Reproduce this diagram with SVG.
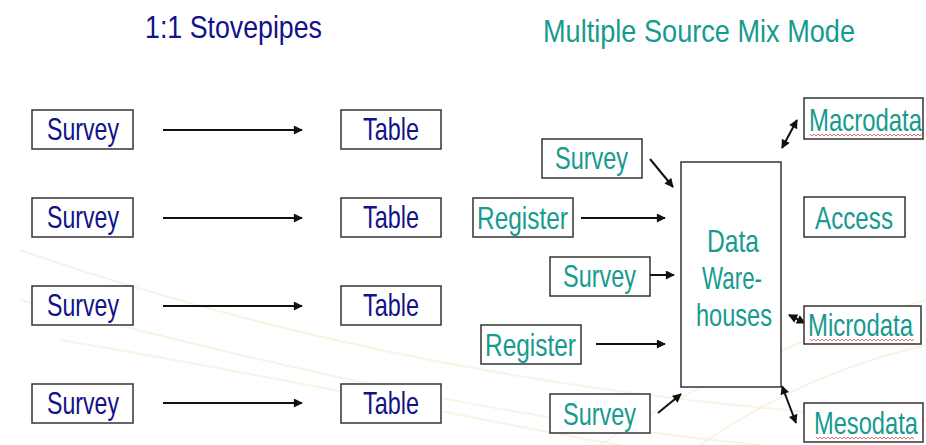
<svg xmlns="http://www.w3.org/2000/svg" width="926" height="445" viewBox="0 0 926 445">
<defs>
<style>
.box{fill:#fff;stroke:#333;stroke-width:1.5}
.t{font-family:"Liberation Sans",Arial,sans-serif;font-size:32px;text-anchor:start}
.navy{fill:#12128a}
.teal{fill:#179a8f}
.conn{stroke:#111;stroke-width:2;fill:none}
.bg{stroke:#f6ead0;stroke-width:2;fill:none;opacity:0.55}
.sq{stroke:#d24a4a;stroke-width:0.8;fill:none}
</style>
<marker id="ah" viewBox="0 0 10 10" refX="9" refY="5" markerWidth="10" markerHeight="9" markerUnits="userSpaceOnUse" orient="auto-start-reverse">
<path d="M0,0 L10,5 L0,10 z" fill="#111"/>
</marker>
</defs>
<rect width="926" height="445" fill="#fff"/>
<g id="background">
<path class="bg" d="M20,250 C250,330 550,400 926,420"/>
<path class="bg" d="M20,300 C250,360 500,420 760,445"/>
<path class="bg" d="M60,340 C300,380 500,425 620,445"/>
<path class="bg" d="M600,445 C700,380 820,330 926,300"/>
<path class="bg" d="M700,445 C780,390 860,360 926,345"/>
</g>
<g id="titles">
<text class="t navy" x="145" y="38" font-size="33" textLength="177" lengthAdjust="spacingAndGlyphs">1:1 Stovepipes</text>
<text class="t teal" x="543" y="42" font-size="33" textLength="312" lengthAdjust="spacingAndGlyphs">Multiple Source Mix Mode</text>
</g>
<g id="connectors">
<line class="conn" x1="163" y1="130" x2="302" y2="130" marker-end="url(#ah)"/>
<line class="conn" x1="163" y1="218" x2="302" y2="218" marker-end="url(#ah)"/>
<line class="conn" x1="163" y1="306" x2="302" y2="306" marker-end="url(#ah)"/>
<line class="conn" x1="163" y1="403" x2="302" y2="403" marker-end="url(#ah)"/>
<line class="conn" x1="650" y1="159" x2="673" y2="187" marker-end="url(#ah)"/>
<line class="conn" x1="581" y1="218" x2="665" y2="218" marker-end="url(#ah)"/>
<line class="conn" x1="650" y1="275" x2="674" y2="275" marker-end="url(#ah)"/>
<line class="conn" x1="596" y1="344" x2="665" y2="344" marker-end="url(#ah)"/>
<line class="conn" x1="658" y1="413" x2="681" y2="394" marker-end="url(#ah)"/>
<line class="conn" x1="782" y1="148" x2="797" y2="120" marker-start="url(#ah)" marker-end="url(#ah)"/>
<line class="conn" x1="789" y1="315" x2="805" y2="323" marker-start="url(#ah)" marker-end="url(#ah)"/>
<line class="conn" x1="782" y1="386" x2="796" y2="423" marker-start="url(#ah)" marker-end="url(#ah)"/>
</g>
<g id="survey-l1"><rect class="box" x="32" y="110" width="101" height="39"/><text class="t navy" x="47" y="140" textLength="72" lengthAdjust="spacingAndGlyphs">Survey</text></g>
<g id="survey-l2"><rect class="box" x="32" y="198" width="101" height="39"/><text class="t navy" x="47" y="228" textLength="72" lengthAdjust="spacingAndGlyphs">Survey</text></g>
<g id="survey-l3"><rect class="box" x="32" y="286" width="101" height="39"/><text class="t navy" x="47" y="316" textLength="72" lengthAdjust="spacingAndGlyphs">Survey</text></g>
<g id="survey-l4"><rect class="box" x="32" y="384" width="101" height="39"/><text class="t navy" x="47" y="414" textLength="72" lengthAdjust="spacingAndGlyphs">Survey</text></g>
<g id="table-1"><rect class="box" x="341" y="110" width="100" height="39"/><text class="t navy" x="363" y="140" textLength="56" lengthAdjust="spacingAndGlyphs">Table</text></g>
<g id="table-2"><rect class="box" x="341" y="198" width="100" height="39"/><text class="t navy" x="363" y="228" textLength="56" lengthAdjust="spacingAndGlyphs">Table</text></g>
<g id="table-3"><rect class="box" x="341" y="286" width="100" height="39"/><text class="t navy" x="363" y="316" textLength="56" lengthAdjust="spacingAndGlyphs">Table</text></g>
<g id="table-4"><rect class="box" x="341" y="384" width="100" height="39"/><text class="t navy" x="363" y="414" textLength="56" lengthAdjust="spacingAndGlyphs">Table</text></g>
<g id="survey-r1"><rect class="box" x="542" y="139" width="100" height="39"/><text class="t teal" x="555" y="169" textLength="73" lengthAdjust="spacingAndGlyphs">Survey</text></g>
<g id="register-r1"><rect class="box" x="473" y="198" width="100" height="39"/><text class="t teal" x="477" y="229" textLength="91" lengthAdjust="spacingAndGlyphs">Register</text></g>
<g id="survey-r2"><rect class="box" x="550" y="257" width="100" height="39"/><text class="t teal" x="563" y="287" textLength="73" lengthAdjust="spacingAndGlyphs">Survey</text></g>
<g id="register-r2"><rect class="box" x="481" y="325" width="100" height="39"/><text class="t teal" x="485" y="356" textLength="91" lengthAdjust="spacingAndGlyphs">Register</text></g>
<g id="survey-r3"><rect class="box" x="550" y="394" width="100" height="39"/><text class="t teal" x="563" y="425" textLength="73" lengthAdjust="spacingAndGlyphs">Survey</text></g>
<g id="data-warehouses"><rect class="box" x="681" y="162" width="100" height="225"/>
<text class="t teal" x="707" y="252" textLength="52" lengthAdjust="spacingAndGlyphs">Data</text>
<text class="t teal" x="702" y="289" textLength="60" lengthAdjust="spacingAndGlyphs">Ware-</text>
<text class="t teal" x="696" y="326" textLength="76" lengthAdjust="spacingAndGlyphs">houses</text></g>
<g id="macrodata"><rect class="box" x="804" y="98" width="119" height="41"/><text class="t teal" transform="translate(809,131) scale(0.748,1)">Macrodata</text>
<path class="sq" d="M810,134 l2,2 l2,-2 l2,2 l2,-2 l2,2 l2,-2 l2,2 l2,-2 l2,2 l2,-2 l2,2 l2,-2 l2,2 l2,-2 l2,2 l2,-2 l2,2 l2,-2 l2,2 l2,-2 l2,2 l2,-2 l2,2 l2,-2 l2,2 l2,-2 l2,2 l2,-2 l2,2 l2,-2 l2,2 l2,-2 l2,2 l2,-2 l2,2 l2,-2 l2,2 l2,-2 l2,2 l2,-2 l2,2 l2,-2 l2,2 l2,-2 l2,2 l2,-2 l2,2 l2,-2 l2,2 l2,-2 l2,2 l2,-2 l2,2 l2,-2 l2,2 l2,-2 l2,2"/></g>
<g id="access"><rect class="box" x="804" y="197" width="101" height="40"/><text class="t teal" x="815" y="229" textLength="78" lengthAdjust="spacingAndGlyphs">Access</text></g>
<g id="microdata"><rect class="box" x="804" y="306" width="117" height="38"/><text class="t teal" transform="translate(808,336) scale(0.747,1)">Microdata</text>
<path class="sq" d="M810,339 l2,2 l2,-2 l2,2 l2,-2 l2,2 l2,-2 l2,2 l2,-2 l2,2 l2,-2 l2,2 l2,-2 l2,2 l2,-2 l2,2 l2,-2 l2,2 l2,-2 l2,2 l2,-2 l2,2 l2,-2 l2,2 l2,-2 l2,2 l2,-2 l2,2 l2,-2 l2,2 l2,-2 l2,2 l2,-2 l2,2 l2,-2 l2,2 l2,-2 l2,2 l2,-2 l2,2 l2,-2 l2,2 l2,-2 l2,2 l2,-2 l2,2 l2,-2 l2,2 l2,-2 l2,2 l2,-2 l2,2 l2,-2"/></g>
<g id="mesodata"><rect class="box" x="804" y="403" width="119" height="39"/><text class="t teal" transform="translate(814,434) scale(0.74,1)">Mesodata</text>
<path class="sq" d="M816,437 l2,2 l2,-2 l2,2 l2,-2 l2,2 l2,-2 l2,2 l2,-2 l2,2 l2,-2 l2,2 l2,-2 l2,2 l2,-2 l2,2 l2,-2 l2,2 l2,-2 l2,2 l2,-2 l2,2 l2,-2 l2,2 l2,-2 l2,2 l2,-2 l2,2 l2,-2 l2,2 l2,-2 l2,2 l2,-2 l2,2 l2,-2 l2,2 l2,-2 l2,2 l2,-2 l2,2 l2,-2 l2,2 l2,-2 l2,2 l2,-2 l2,2 l2,-2 l2,2 l2,-2 l2,2"/></g>
</svg>
